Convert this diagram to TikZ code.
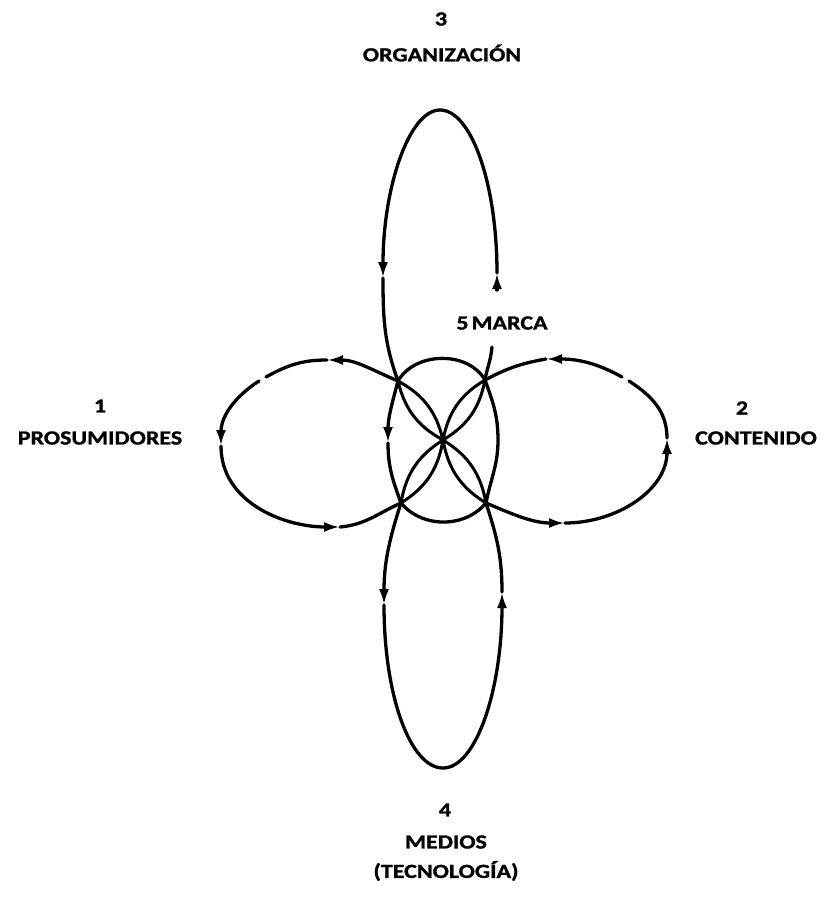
\documentclass[tikz,border=0pt]{standalone}
\usepackage{fontspec}
\setmainfont{Carlito}[FakeStretch=1.2, BoldFeatures={FakeBold=1.2}]
\usetikzlibrary{arrows.meta}
\tikzset{
  loopline/.style={line width=3.3pt, line cap=round},
  tipped/.style={loopline, -{Latex[length=16pt, width=10pt]}},
  petal/.style={line width=3pt},
  lbl/.style={font=\bfseries\fontsize{20}{22}\selectfont, inner sep=0pt, align=center},
}
\begin{document}
\begin{tikzpicture}[x=1pt, y=-1pt]
  \useasboundingbox[fill=white] (0,0) rectangle (823,897);
  % crossings and centre
  \coordinate (ul) at (398,381);
  \coordinate (ur) at (485,380);
  \coordinate (ll) at (401,503);
  \coordinate (lr) at (486,503);
  \coordinate (c) at (443,440);
  % vertical loop
  \coordinate (vStart) at (497,290);
  \coordinate (vTipR) at (497,273);
  \coordinate (vTop) at (440,110);
  \coordinate (vTipL) at (383,278);
  \coordinate (vTipM) at (388,443);
  \coordinate (vTipB) at (384,605);
  \coordinate (vBot) at (443,768);
  \coordinate (vTipRB) at (502,592);
  \coordinate (vSideR) at (498,440);
  \coordinate (vEnd) at (492,347);
  % horizontal loop
  \coordinate (hTipTL) at (327,360);
  \coordinate (hGapL1) at (266,377);
  \coordinate (hGapL2) at (259,381);
  \coordinate (hTipL) at (221,446);
  \coordinate (hTipBL) at (340,527);
  \coordinate (hTipBR) at (565,523);
  \coordinate (hTipR) at (667,438);
  \coordinate (hGapR1) at (629,381);
  \coordinate (hGapR2) at (622,377);
  \coordinate (hTipTR) at (546,359);

  \draw[tipped] (vStart) -- (vTipR);
  \draw[tipped] (vTipR) .. controls +(0,-90) and +(31,0) .. (vTop)
    .. controls +(-31,0) and +(0,-90) .. (vTipL);
  \draw[tipped] (vTipL) to[out=270,in=110] (ul) to[out=255,in=90] (vTipM);
  \draw[tipped] (vTipM) to[out=270,in=110] (ll) to[out=252,in=90] (vTipB);
  \draw[tipped] (vTipB) .. controls +(0,90) and +(-33,0) .. (vBot)
    .. controls +(33,0) and +(0,98) .. (vTipRB);
  \draw[loopline] (vTipRB) to[out=90,in=288] (lr) to[out=79,in=270] (vSideR)
    to[out=90,in=290] (ur) to[out=80,in=265] (vEnd);

  \draw[tipped] (hGapR2) to[out=151,in=0] (hTipTR);
  \draw[tipped] (hTipTR) to[out=190,in=28] (ur) to[out=120,in=60] (ul)
    to[out=157,in=0] (hTipTL);
  \draw[loopline] (hTipTL) to[out=180,in=29] (hGapL1);
  \draw[tipped] (hGapL2) to[out=213,in=90] (hTipL);
  \draw[tipped] (hTipL) to[out=270,in=180] (hTipBL);
  \draw[tipped] (hTipBL) to[out=5,in=204] (ll) to[out=310,in=230] (lr)
    to[out=337,in=180] (hTipBR);
  \draw[tipped] (hTipBR) to[out=0,in=270] (hTipR);
  \draw[loopline] (hTipR) to[out=90,in=327] (hGapR1);

  % petals of the brand
  \foreach \p in {ul,ur,ll,lr}
    \draw[petal] (\p) to[bend left=24] (c) (\p) to[bend right=24] (c);

  \node[lbl] (n3) at (441,19) {3};
  \node[lbl] (org) at (442,53) {ORGANIZACIÓN};
  \node[lbl] (n1) at (100,406) {1};
  \node[lbl] (pros) at (100,438) {PROSUMIDORES};
  \node[lbl] (n2) at (742,408) {2};
  \node[lbl] (cont) at (756,438) {CONTENIDO};
  \node[lbl] (n4) at (445,810) {4};
  \node[lbl] (med) at (446,842) {MEDIOS};
  \node[lbl] (tec) at (446,871) {(TECNOLOGÍA)};
  \node[lbl] (marca) at (502,323) {5\hspace{3pt}MARCA};
\end{tikzpicture}
\end{document}
